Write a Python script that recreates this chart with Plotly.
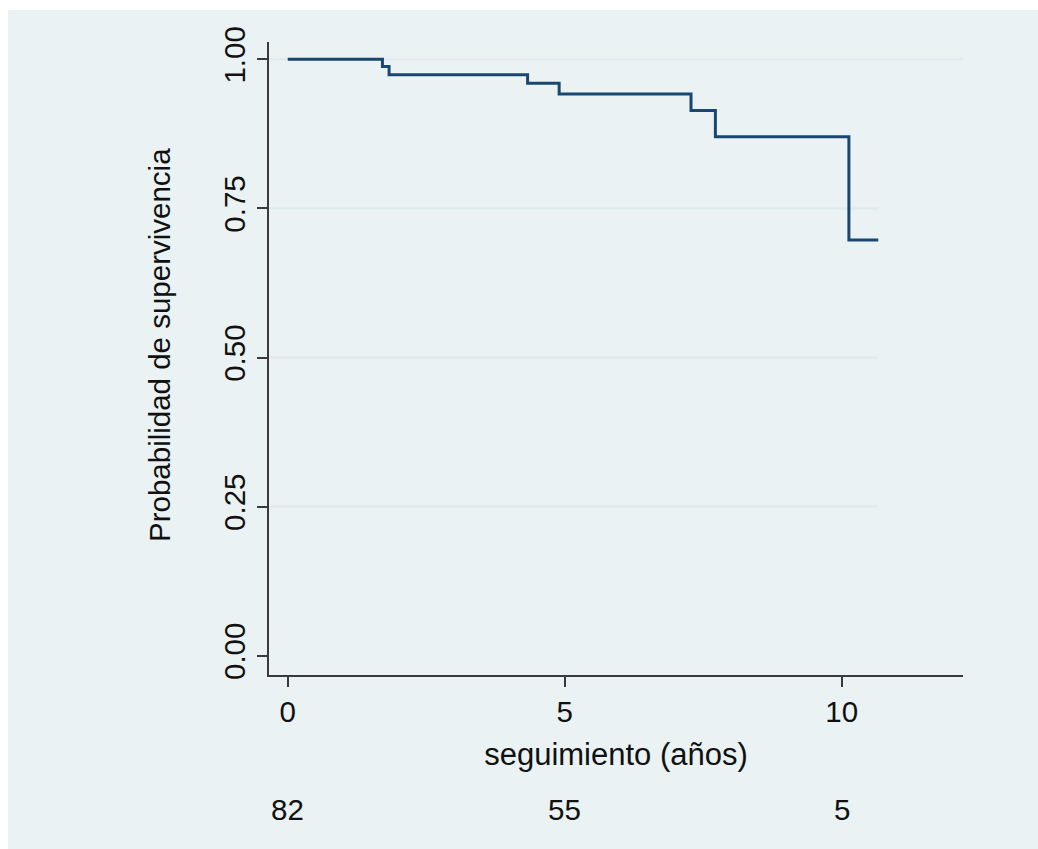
import plotly.graph_objects as go

# Kaplan-Meier estimate: event times (years) and survival after each step
times = [0, 1.71, 1.83, 4.33, 4.90, 7.28, 7.72, 10.13, 10.66]
survival = [1.0, 0.988, 0.974, 0.960, 0.942, 0.914, 0.870, 0.697, 0.697]

# number at risk shown under the x axis
risk_times = [0, 5, 10]
risk_counts = [82, 55, 5]

y_ticks = [0, 0.25, 0.5, 0.75, 1.0]
y_tick_text = ["0.00", "0.25", "0.50", "0.75", "1.00"]
x_ticks = [0, 5, 10]

NAVY = "#1A476F"
BG = "#EAF2F3"
GRID = "#DFEAEC"
AXIS = "#3A3A3A"
FONT = "Liberation Sans, Arial, sans-serif"

W, H = 1038, 849
L, R, T, B = 269, 75, 42, 174
pw, ph = W - L - R, H - T - B


def px_x(p):
    return (p - L) / pw


def px_y(p):
    return (H - B - p) / ph


fig = go.Figure()
fig.add_trace(go.Scatter(
    x=times, y=survival, mode="lines", line=dict(color=NAVY, width=3, shape="hv"),
    hoverinfo="skip", showlegend=False,
))

shapes = [
    # outer graph region
    dict(type="rect", xref="paper", yref="paper", x0=px_x(8), x1=px_x(W + 5),
         y0=px_y(H + 5), y1=px_y(10), fillcolor=BG, line=dict(width=0), layer="below"),
]
for yv in y_ticks[1:]:
    x_end = 12.5 if yv == 1.0 else times[-1]
    shapes.append(dict(type="line", xref="x", yref="y", x0=-0.4, x1=x_end, y0=yv, y1=yv,
                       line=dict(color=GRID, width=2), layer="below"))

annotations = [
    dict(text=str(c), x=t, y=px_y(809), xref="x", yref="paper", showarrow=False,
         xanchor="center", yanchor="middle", font=dict(size=29.5, color="#111", family=FONT))
    for t, c in zip(risk_times, risk_counts)
]
annotations.append(dict(text="Probabilidad de supervivencia", textangle=-90,
                        x=px_x(160), y=px_y(345), xref="paper", yref="paper",
                        showarrow=False, xanchor="center", yanchor="middle",
                        font=dict(size=29.5, color="#111", family=FONT)))

fig.update_layout(
    width=W, height=H,
    margin=dict(l=L, r=R, t=T, b=B),
    paper_bgcolor="white", plot_bgcolor="white",
    font=dict(family=FONT, size=29, color="#111"),
    shapes=shapes, annotations=annotations,
    xaxis=dict(
        range=[(L - 287.7) / 55.4, (W - R - 287.7) / 55.4],
        tickvals=x_ticks, ticktext=[str(v) for v in x_ticks],
        showgrid=False, zeroline=False,
        showline=True, linecolor=AXIS, linewidth=2,
        ticks="outside", ticklen=10, tickwidth=2, tickcolor=AXIS,
        tickfont=dict(size=29.5, color="#111", family=FONT),
        title=dict(text="seguimiento (años)", standoff=16,
                   font=dict(size=31, color="#111", family=FONT)),
    ),
    yaxis=dict(
        range=[-19.3 / 596.4, 1 + 17.3 / 596.4],
        tickvals=y_ticks, ticktext=y_tick_text, tickangle=-90,
        showgrid=False, zeroline=False,
        showline=True, linecolor=AXIS, linewidth=2,
        ticks="outside", ticklen=10, tickwidth=2, tickcolor=AXIS,
        tickfont=dict(size=29.5, color="#111", family=FONT),
    ),
)

fig.write_html("out.html")
